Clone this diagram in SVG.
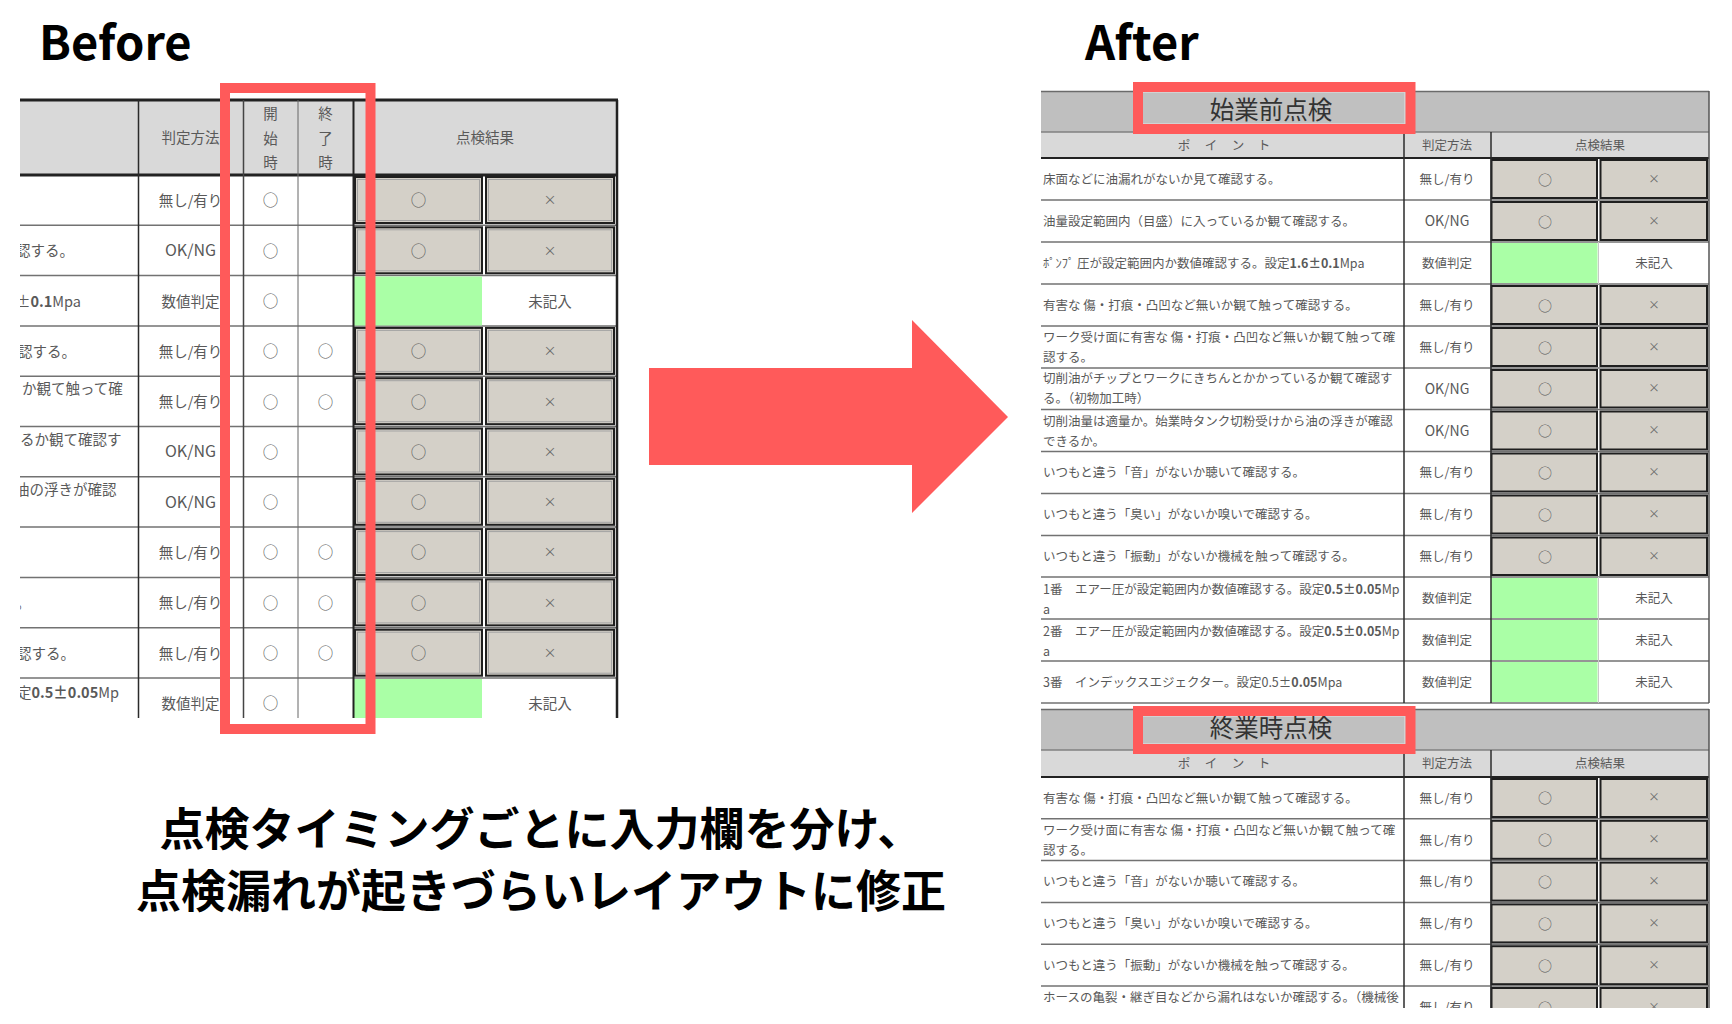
<svg xmlns="http://www.w3.org/2000/svg" width="1732" height="1024" viewBox="0 0 1732 1024">
<style>
.f{font-family:"Noto Sans CJK JP","Noto Sans",sans-serif}
.g{fill:#595959}
.s14{font-size:14.5px}
.s12{font-size:12.5px}
.m{text-anchor:middle}
.bd{font-weight:700}
.btn{fill:#d4d0c8;stroke:#1f1f1f;stroke-width:2}
.bin{fill:none;stroke:#a3a3a3;stroke-width:1}
.grn{fill:#aaffa6}
.rl{stroke:#727272;stroke-width:1.5}
.vl{stroke:#2b2b2b;stroke-width:1.5}
.hl{fill:none;stroke:#ff5a5a;stroke-width:10}
.x{fill:#6a6a6a}
.big{font-family:"Noto Sans CJK JP","Noto Sans",sans-serif;font-weight:700;fill:#000}
</style>
<defs>
<clipPath id="clipB"><rect x="20" y="176" width="118" height="560"/></clipPath>
<clipPath id="clipA2"><rect x="1000" y="700" width="732" height="308"/></clipPath>
</defs>
<rect x="0" y="0" width="1732" height="1024" fill="#ffffff"/>

<g id="before-title"><text class="big" x="39" y="60" font-size="47">Before</text></g>
<g id="after-title"><text class="big" x="1085" y="60" font-size="47">After</text></g>

<g id="before-table">
<rect x="20" y="100" width="597" height="75" fill="#d9d9d9"/>
<g class="rl">
<line x1="20" y1="225.3" x2="617" y2="225.3"/><line x1="20" y1="275.6" x2="617" y2="275.6"/>
<line x1="20" y1="325.9" x2="617" y2="325.9"/><line x1="20" y1="376.2" x2="617" y2="376.2"/>
<line x1="20" y1="426.5" x2="617" y2="426.5"/><line x1="20" y1="476.8" x2="617" y2="476.8"/>
<line x1="20" y1="527.1" x2="617" y2="527.1"/><line x1="20" y1="577.4" x2="617" y2="577.4"/>
<line x1="20" y1="627.7" x2="617" y2="627.7"/><line x1="20" y1="678" x2="617" y2="678"/>
</g>
<rect class="grn" x="354" y="276.5" width="128" height="49"/>
<rect class="grn" x="354" y="679" width="128" height="39"/>
<g id="before-buttons">
<rect class="btn" x="355" y="177" width="127" height="46"/><rect class="btn" x="486" y="177" width="128" height="46"/>
<rect class="btn" x="355" y="227.3" width="127" height="46"/><rect class="btn" x="486" y="227.3" width="128" height="46"/>
<rect class="btn" x="355" y="327.9" width="127" height="46"/><rect class="btn" x="486" y="327.9" width="128" height="46"/>
<rect class="btn" x="355" y="378.2" width="127" height="46"/><rect class="btn" x="486" y="378.2" width="128" height="46"/>
<rect class="btn" x="355" y="428.5" width="127" height="46"/><rect class="btn" x="486" y="428.5" width="128" height="46"/>
<rect class="btn" x="355" y="478.8" width="127" height="46"/><rect class="btn" x="486" y="478.8" width="128" height="46"/>
<rect class="btn" x="355" y="529.1" width="127" height="46"/><rect class="btn" x="486" y="529.1" width="128" height="46"/>
<rect class="btn" x="355" y="579.4" width="127" height="46"/><rect class="btn" x="486" y="579.4" width="128" height="46"/>
<rect class="btn" x="355" y="629.7" width="127" height="46"/><rect class="btn" x="486" y="629.7" width="128" height="46"/>
<g class="bin">
<rect x="357.5" y="179.5" width="122" height="41"/><rect x="488.5" y="179.5" width="123" height="41"/>
<rect x="357.5" y="229.8" width="122" height="41"/><rect x="488.5" y="229.8" width="123" height="41"/>
<rect x="357.5" y="330.4" width="122" height="41"/><rect x="488.5" y="330.4" width="123" height="41"/>
<rect x="357.5" y="380.7" width="122" height="41"/><rect x="488.5" y="380.7" width="123" height="41"/>
<rect x="357.5" y="431" width="122" height="41"/><rect x="488.5" y="431" width="123" height="41"/>
<rect x="357.5" y="481.3" width="122" height="41"/><rect x="488.5" y="481.3" width="123" height="41"/>
<rect x="357.5" y="531.6" width="122" height="41"/><rect x="488.5" y="531.6" width="123" height="41"/>
<rect x="357.5" y="581.9" width="122" height="41"/><rect x="488.5" y="581.9" width="123" height="41"/>
<rect x="357.5" y="632.2" width="122" height="41"/><rect x="488.5" y="632.2" width="123" height="41"/>
</g>
</g>
<line x1="20" y1="100" x2="618" y2="100" stroke="#222" stroke-width="3"/>
<line x1="20" y1="175" x2="618" y2="175" stroke="#222" stroke-width="3"/>
<line class="vl" x1="138.5" y1="100" x2="138.5" y2="718"/>
<line x1="243.5" y1="100" x2="243.5" y2="718" stroke="#444" stroke-width="1.5"/>
<line x1="298" y1="100" x2="298" y2="718" stroke="#666" stroke-width="1"/>
<line x1="353.5" y1="100" x2="353.5" y2="718" stroke="#222" stroke-width="2"/>
<line x1="617" y1="100" x2="617" y2="718" stroke="#222" stroke-width="2.5"/>

<g class="f g s14">
<text class="m" x="190.5" y="143">判定方法</text>
<text class="m" x="270.5" y="118.5">開</text><text class="m" x="270.5" y="143.5">始</text><text class="m" x="270.5" y="167.5">時</text>
<text class="m" x="325.5" y="118.5">終</text><text class="m" x="325.5" y="143.5">了</text><text class="m" x="325.5" y="167.5">時</text>
<text class="m" x="485" y="142.5">点検結果</text>
</g>
<g class="f g s14" clip-path="url(#clipB)">
<text x="16" y="256">認する。</text>
<text x="16" y="306.5">±<tspan class="bd">0.1</tspan>Mpa</text>
<text x="18" y="356.5">認する。</text>
<text x="22" y="394">か観て触って確</text>
<text x="20" y="444.5">るか観て確認す</text>
<text x="15" y="494.5">油の浮きが確認</text>
<text x="16" y="608">。</text>
<text x="17" y="658.5">認する。</text>
<text x="17" y="697.5">定<tspan class="bd">0.5±0.05</tspan>Mp</text>
</g>
<g class="f g s14 m">
<text x="190.5" y="205.5">無し/有り</text>
<text x="190.5" y="256" font-size="16">OK/NG</text>
<text x="190.5" y="306.5">数値判定</text>
<text x="190.5" y="356.5">無し/有り</text>
<text x="190.5" y="407">無し/有り</text>
<text x="190.5" y="457" font-size="16">OK/NG</text>
<text x="190.5" y="507.5" font-size="16">OK/NG</text>
<text x="190.5" y="557.5">無し/有り</text>
<text x="190.5" y="608">無し/有り</text>
<text x="190.5" y="658.5">無し/有り</text>
<text x="190.5" y="708.5">数値判定</text>
</g>
<g class="f g m" font-size="15.5">
<text x="270.5" y="206">○</text><text x="270.5" y="256.5">○</text><text x="270.5" y="307">○</text>
<text x="270.5" y="357">○</text><text x="270.5" y="407.5">○</text><text x="270.5" y="457.5">○</text>
<text x="270.5" y="508">○</text><text x="270.5" y="558">○</text><text x="270.5" y="608.5">○</text>
<text x="270.5" y="659">○</text><text x="270.5" y="709">○</text>
<text x="325.5" y="357">○</text><text x="325.5" y="407.5">○</text><text x="325.5" y="558">○</text>
<text x="325.5" y="608.5">○</text><text x="325.5" y="659">○</text>
<text x="418.5" y="206">○</text><text x="418.5" y="256.5">○</text><text x="418.5" y="357">○</text>
<text x="418.5" y="407.5">○</text><text x="418.5" y="457.5">○</text><text x="418.5" y="508">○</text>
<text x="418.5" y="558">○</text><text x="418.5" y="608.5">○</text><text x="418.5" y="659">○</text>
</g>
<g class="f x m" font-size="13">
<text x="550" y="204">×</text><text x="550" y="254.5">×</text><text x="550" y="355">×</text>
<text x="550" y="405.5">×</text><text x="550" y="455.5">×</text><text x="550" y="506">×</text>
<text x="550" y="556">×</text><text x="550" y="606.5">×</text><text x="550" y="657">×</text>
</g>
<g class="f g s14 m">
<text x="550" y="306.5">未記入</text>
<text x="550" y="708.5">未記入</text>
</g>
</g>

<g id="before-highlight"><rect class="hl" x="225" y="88" width="145.5" height="641"/></g>

<g id="connectors">
<polygon points="649,368 912,368 912,320 1008,417 912,513 912,465 649,465" fill="#ff5a5a"/>
</g>

<g id="after-table-1">
<rect x="1041" y="91" width="668" height="41" fill="#bfbfbf"/>
<rect x="1041" y="132" width="668" height="26" fill="#d9d9d9"/>
<line x1="1041" y1="91.5" x2="1709" y2="91.5" stroke="#6a6a6a" stroke-width="1.5"/>
<line x1="1041" y1="132" x2="1709" y2="132" stroke="#808080" stroke-width="1.5"/>
<g class="rl">
<line x1="1041" y1="200" x2="1709" y2="200"/><line x1="1041" y1="242" x2="1709" y2="242"/>
<line x1="1041" y1="284" x2="1709" y2="284"/><line x1="1041" y1="326" x2="1709" y2="326"/>
<line x1="1041" y1="368" x2="1709" y2="368"/><line x1="1041" y1="409.5" x2="1709" y2="409.5"/>
<line x1="1041" y1="451.5" x2="1709" y2="451.5"/><line x1="1041" y1="493.5" x2="1709" y2="493.5"/>
<line x1="1041" y1="535.5" x2="1709" y2="535.5"/><line x1="1041" y1="577" x2="1709" y2="577"/>
<line x1="1041" y1="619" x2="1709" y2="619"/><line x1="1041" y1="661" x2="1709" y2="661"/>
<line x1="1041" y1="703" x2="1709" y2="703"/>
</g>
<rect class="grn" x="1491" y="243" width="106.5" height="40"/>
<rect class="grn" x="1491" y="578" width="106.5" height="40"/>
<rect class="grn" x="1491" y="620" width="106.5" height="40"/>
<rect class="grn" x="1491" y="662" width="106.5" height="40"/>
<g stroke="#c8c8c8" stroke-width="1">
<line x1="1598.5" y1="242" x2="1598.5" y2="284"/><line x1="1598.5" y1="577" x2="1598.5" y2="703"/>
</g>
<g>
<rect class="btn" x="1491.5" y="160" width="105.5" height="38"/><rect class="btn" x="1600.5" y="160" width="106.5" height="38"/>
<rect class="btn" x="1491.5" y="202" width="105.5" height="38"/><rect class="btn" x="1600.5" y="202" width="106.5" height="38"/>
<rect class="btn" x="1491.5" y="286" width="105.5" height="38"/><rect class="btn" x="1600.5" y="286" width="106.5" height="38"/>
<rect class="btn" x="1491.5" y="328" width="105.5" height="38"/><rect class="btn" x="1600.5" y="328" width="106.5" height="38"/>
<rect class="btn" x="1491.5" y="370" width="105.5" height="37.5"/><rect class="btn" x="1600.5" y="370" width="106.5" height="37.5"/>
<rect class="btn" x="1491.5" y="411.5" width="105.5" height="38"/><rect class="btn" x="1600.5" y="411.5" width="106.5" height="38"/>
<rect class="btn" x="1491.5" y="453.5" width="105.5" height="38"/><rect class="btn" x="1600.5" y="453.5" width="106.5" height="38"/>
<rect class="btn" x="1491.5" y="495.5" width="105.5" height="38"/><rect class="btn" x="1600.5" y="495.5" width="106.5" height="38"/>
<rect class="btn" x="1491.5" y="537.5" width="105.5" height="37.5"/><rect class="btn" x="1600.5" y="537.5" width="106.5" height="37.5"/>
</g>
<line x1="1041" y1="158" x2="1709" y2="158" stroke="#222" stroke-width="2"/>
<line class="vl" x1="1404" y1="132" x2="1404" y2="703"/>
<line class="vl" x1="1491" y1="132" x2="1491" y2="703"/>
<line x1="1709" y1="91" x2="1709" y2="703" stroke="#555" stroke-width="1.5"/>
<rect x="1142" y="92" width="263" height="32" fill="#c0c0c0" stroke="#d8d8d8" stroke-width="1.5"/>
<text class="f m" x="1271" y="119" font-size="24.5" fill="#333">始業前点検</text>
<g class="f g s12 m">
<text x="1184" y="149.5">ポ</text><text x="1211" y="149.5">イ</text><text x="1238" y="149.5">ン</text><text x="1264" y="149.5">ト</text>
<text x="1447" y="149.5">判定方法</text>
<text x="1600" y="149.5">点検結果</text>
</g>
<g class="f g s12">
<text x="1043" y="184">床面などに油漏れがないか見て確認する。</text>
<text x="1043" y="226">油量設定範囲内（目盛）に入っているか観て確認する。</text>
<text x="1043" y="268">ﾎﾟﾝﾌﾟ 圧が設定範囲内か数値確認する。設定<tspan class="bd">1.6±0.1</tspan>Mpa</text>
<text x="1043" y="310">有害な 傷・打痕・凸凹など無いか観て触って確認する。</text>
<text x="1043" y="342">ワーク受け面に有害な 傷・打痕・凸凹など無いか観て触って確</text>
<text x="1043" y="362">認する。</text>
<text x="1043" y="383">切削油がチップとワークにきちんとかかっているか観て確認す</text>
<text x="1043" y="403">る。（初物加工時）</text>
<text x="1043" y="425.5">切削油量は適量か。始業時タンク切粉受けから油の浮きが確認</text>
<text x="1043" y="445.5">できるか。</text>
<text x="1043" y="477">いつもと違う「音」がないか聴いて確認する。</text>
<text x="1043" y="519">いつもと違う「臭い」がないか嗅いで確認する。</text>
<text x="1043" y="561">いつもと違う「振動」がないか機械を触って確認する。</text>
<text x="1043" y="593.5">1番　エアー圧が設定範囲内か数値確認する。設定<tspan class="bd">0.5±0.05</tspan>Mp</text>
<text x="1043" y="613.5">a</text>
<text x="1043" y="635.5">2番　エアー圧が設定範囲内か数値確認する。設定<tspan class="bd">0.5±0.05</tspan>Mp</text>
<text x="1043" y="655.5">a</text>
<text x="1043" y="686.5">3番　インデックスエジェクター。設定0.5±<tspan class="bd">0.05</tspan>Mpa</text>
</g>
<g class="f g s12 m">
<text x="1447" y="184">無し/有り</text>
<text x="1447" y="226" font-size="14">OK/NG</text>
<text x="1447" y="268">数値判定</text>
<text x="1447" y="310">無し/有り</text>
<text x="1447" y="352">無し/有り</text>
<text x="1447" y="393.5" font-size="14">OK/NG</text>
<text x="1447" y="435.5" font-size="14">OK/NG</text>
<text x="1447" y="477">無し/有り</text>
<text x="1447" y="519">無し/有り</text>
<text x="1447" y="561">無し/有り</text>
<text x="1447" y="602.5">数値判定</text>
<text x="1447" y="644.5">数値判定</text>
<text x="1447" y="686.5">数値判定</text>
<text x="1654" y="268">未記入</text>
<text x="1654" y="602.5">未記入</text>
<text x="1654" y="644.5">未記入</text>
<text x="1654" y="686.5">未記入</text>
</g>
<g class="f g m" font-size="14">
<text x="1545" y="184.5">○</text><text x="1545" y="226.5">○</text><text x="1545" y="310.5">○</text>
<text x="1545" y="352.5">○</text><text x="1545" y="394">○</text><text x="1545" y="436">○</text>
<text x="1545" y="478">○</text><text x="1545" y="520">○</text><text x="1545" y="561.5">○</text>
</g>
<g class="f x m" font-size="11.5">
<text x="1654" y="182.5">×</text><text x="1654" y="224.5">×</text><text x="1654" y="308.5">×</text>
<text x="1654" y="350.5">×</text><text x="1654" y="392">×</text><text x="1654" y="434">×</text>
<text x="1654" y="476">×</text><text x="1654" y="518">×</text><text x="1654" y="559.5">×</text>
</g>
</g>
<g id="after-highlight-1"><rect class="hl" x="1138" y="87" width="272.5" height="42"/></g>

<g id="after-table-2" clip-path="url(#clipA2)">
<rect x="1041" y="709" width="668" height="41" fill="#bfbfbf"/>
<rect x="1041" y="750" width="668" height="27" fill="#d9d9d9"/>
<line x1="1041" y1="709.5" x2="1709" y2="709.5" stroke="#6a6a6a" stroke-width="1.5"/>
<line x1="1041" y1="750" x2="1709" y2="750" stroke="#808080" stroke-width="1.5"/>
<g class="rl">
<line x1="1041" y1="818.8" x2="1709" y2="818.8"/><line x1="1041" y1="860.6" x2="1709" y2="860.6"/>
<line x1="1041" y1="902.4" x2="1709" y2="902.4"/><line x1="1041" y1="944.2" x2="1709" y2="944.2"/>
<line x1="1041" y1="986" x2="1709" y2="986"/>
</g>
<g>
<rect class="btn" x="1491.5" y="779" width="105.5" height="38"/><rect class="btn" x="1600.5" y="779" width="106.5" height="38"/>
<rect class="btn" x="1491.5" y="820.8" width="105.5" height="38"/><rect class="btn" x="1600.5" y="820.8" width="106.5" height="38"/>
<rect class="btn" x="1491.5" y="862.6" width="105.5" height="38"/><rect class="btn" x="1600.5" y="862.6" width="106.5" height="38"/>
<rect class="btn" x="1491.5" y="904.4" width="105.5" height="38"/><rect class="btn" x="1600.5" y="904.4" width="106.5" height="38"/>
<rect class="btn" x="1491.5" y="946.2" width="105.5" height="38"/><rect class="btn" x="1600.5" y="946.2" width="106.5" height="38"/>
<rect class="btn" x="1491.5" y="988" width="105.5" height="38"/><rect class="btn" x="1600.5" y="988" width="106.5" height="38"/>
</g>
<line x1="1041" y1="777" x2="1709" y2="777" stroke="#222" stroke-width="2"/>
<line class="vl" x1="1404" y1="750" x2="1404" y2="1024"/>
<line class="vl" x1="1491" y1="750" x2="1491" y2="1024"/>
<line x1="1709" y1="709" x2="1709" y2="1024" stroke="#555" stroke-width="1.5"/>
<rect x="1142" y="716" width="263" height="28" fill="#c0c0c0" stroke="#d8d8d8" stroke-width="1.5"/>
<text class="f m" x="1271" y="737" font-size="24.5" fill="#333">終業時点検</text>
<g class="f g s12 m">
<text x="1184" y="768">ポ</text><text x="1211" y="768">イ</text><text x="1238" y="768">ン</text><text x="1264" y="768">ト</text>
<text x="1447" y="768">判定方法</text>
<text x="1600" y="768">点検結果</text>
</g>
<g class="f g s12">
<text x="1043" y="802.5">有害な 傷・打痕・凸凹など無いか観て触って確認する。</text>
<text x="1043" y="834.5">ワーク受け面に有害な 傷・打痕・凸凹など無いか観て触って確</text>
<text x="1043" y="854.5">認する。</text>
<text x="1043" y="886">いつもと違う「音」がないか聴いて確認する。</text>
<text x="1043" y="928">いつもと違う「臭い」がないか嗅いで確認する。</text>
<text x="1043" y="970">いつもと違う「振動」がないか機械を触って確認する。</text>
<text x="1043" y="1002">ホースの亀裂・継ぎ目などから漏れはないか確認する。（機械後</text>
</g>
<g class="f g s12 m">
<text x="1447" y="802.5">無し/有り</text>
<text x="1447" y="844.5">無し/有り</text>
<text x="1447" y="886">無し/有り</text>
<text x="1447" y="928">無し/有り</text>
<text x="1447" y="970">無し/有り</text>
<text x="1447" y="1012">無し/有り</text>
</g>
<g class="f g m" font-size="14">
<text x="1545" y="803">○</text><text x="1545" y="845">○</text><text x="1545" y="886.5">○</text>
<text x="1545" y="928.5">○</text><text x="1545" y="970.5">○</text><text x="1545" y="1012.5">○</text>
</g>
<g class="f x m" font-size="11.5">
<text x="1654" y="801">×</text><text x="1654" y="843">×</text><text x="1654" y="884.5">×</text>
<text x="1654" y="926.5">×</text><text x="1654" y="968.5">×</text><text x="1654" y="1010.5">×</text>
</g>
</g>
<g id="after-highlight-2"><rect class="hl" x="1138" y="711" width="272.5" height="38"/></g>

<g id="caption">
<text class="big m" x="541" y="846" font-size="45">点検タイミングごとに入力欄を分け、</text>
<text class="big m" x="541" y="908" font-size="45">点検漏れが起きづらいレイアウトに修正</text>
</g>
</svg>
